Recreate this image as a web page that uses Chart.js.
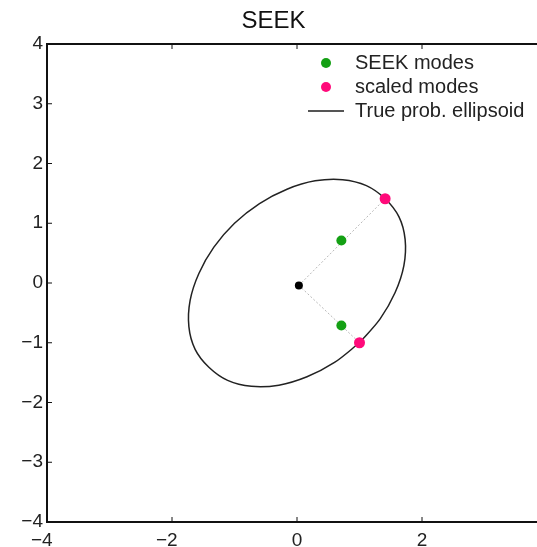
<!DOCTYPE html>
<html>
<head>
<meta charset="utf-8">
<script src="https://cdn.jsdelivr.net/npm/chart.js@4/dist/chart.umd.min.js"></script>
<style>
  html, body { margin: 0; padding: 0; background: #fff; overflow: hidden; }
  #wrap { position: absolute; left: 0; top: 0; width: 594px; height: 547px; }
</style>
</head>
<body>
<div id="wrap"><canvas id="seek" width="594" height="547"></canvas></div>
<script>
const FONT = '"Liberation Sans", Arial, Helvetica, sans-serif';

// values
const modesX = [0.71, 0.71];
const modesY = [0.71, -0.71];
const scaledX = [1.41, 1.0];
const scaledY = [1.41, -1.0];
const centerX = [0.03];
const centerY = [-0.04];
// ellipse outline, starting and ending at the lower right scaled mode
const ellipseX = [1.00, 0.60, 0.16, -0.29, -0.73, -1.11, -1.41, -1.63, -1.73, -1.71, -1.57, -1.33,
  -1.00, -0.60, -0.16, 0.29, 0.73, 1.11, 1.41, 1.63, 1.73, 1.71, 1.57, 1.33, 1.00];
const ellipseY = [-1.00, -1.33, -1.57, -1.71, -1.73, -1.63, -1.41, -1.11, -0.73, -0.29, 0.16, 0.60,
  1.00, 1.33, 1.57, 1.71, 1.73, 1.63, 1.41, 1.11, 0.73, 0.29, -0.16, -0.60, -1.00];
const xTicks = [-4, -2, 0, 2, 4];
const yTicks = [-4, -3, -2, -1, 0, 1, 2, 3, 4];

const pts = (xs, ys) => xs.map((x, i) => ({ x, y: ys[i] }));

function dotIcon(color, r) {
  const c = document.createElement('canvas');
  c.width = c.height = 2 * r + 2;
  const g = c.getContext('2d');
  g.fillStyle = color;
  g.beginPath();
  g.arc(r + 1, r + 1, r, 0, Math.PI * 2);
  g.fill();
  return c;
}

function lineIcon(color, len) {
  const c = document.createElement('canvas');
  c.width = len;
  c.height = 4;
  const g = c.getContext('2d');
  g.fillStyle = color;
  g.fillRect(0, 1, len, 2);
  return c;
}

const icons = {
  'SEEK modes': dotIcon('#14a014', 5),
  'scaled modes': dotIcon('#ff0a7a', 5),
  'True prob. ellipsoid': lineIcon('#555', 36)
};

const minus = v => (v < 0 ? '\u2212' + (-v) : '' + v);

// matlab style box with inward ticks
const framePlugin = {
  id: 'frame',
  afterDraw(chart) {
    const { ctx, chartArea: a, scales } = chart;
    ctx.save();
    ctx.strokeStyle = '#111';
    ctx.lineWidth = 1;
    ctx.beginPath();
    xTicks.forEach(v => {
      const px = scales.x.getPixelForValue(v);
      ctx.moveTo(px, a.bottom); ctx.lineTo(px, a.bottom - 5);
      ctx.moveTo(px, a.top); ctx.lineTo(px, a.top + 5);
    });
    yTicks.forEach(v => {
      const py = scales.y.getPixelForValue(v);
      ctx.moveTo(a.left, py); ctx.lineTo(a.left + 5, py);
      ctx.moveTo(a.right, py); ctx.lineTo(a.right - 5, py);
    });
    ctx.stroke();
    ctx.lineWidth = 2;
    ctx.strokeRect(a.left, a.top, a.right - a.left, a.bottom - a.top);
    ctx.restore();
  }
};

// put the legend in the upper right corner of the plot
const legendPlace = {
  id: 'legendPlace',
  afterLayout(chart) {
    chart.legend.left = 303;
    chart.legend.top = 49;
  }
};

new Chart(document.getElementById('seek'), {
  type: 'scatter',
  data: {
    datasets: [
      { label: 'SEEK modes', data: pts(modesX, modesY), backgroundColor: '#14a014',
        pointRadius: 5, pointHoverRadius: 5, pointBorderWidth: 0 },
      { label: 'scaled modes', data: pts(scaledX, scaledY), backgroundColor: '#ff0a7a',
        pointRadius: 5.5, pointHoverRadius: 5.5, pointBorderWidth: 0 },
      { label: 'True prob. ellipsoid', data: pts(ellipseX, ellipseY), showLine: true,
        borderColor: '#222', borderWidth: 1.5, tension: 0.33, pointRadius: 0 },
      { label: 'center', data: pts(centerX, centerY), backgroundColor: '#000',
        pointRadius: 4, pointBorderWidth: 0 },
      { label: 'dir1', data: [pts(centerX, centerY)[0], pts(scaledX, scaledY)[0]], showLine: true,
        borderColor: '#b8b8b8', borderWidth: 1, borderDash: [2, 2], pointRadius: 0 },
      { label: 'dir2', data: [pts(centerX, centerY)[0], pts(scaledX, scaledY)[1]], showLine: true,
        borderColor: '#b8b8b8', borderWidth: 1, borderDash: [2, 2], pointRadius: 0 }
    ]
  },
  options: {
    responsive: false,
    animation: false,
    events: [],
    layout: { padding: { left: 0, right: 47, top: 0, bottom: 0 } },
    plugins: {
      tooltip: { enabled: false },
      title: {
        display: true,
        text: 'SEEK',
        color: '#111',
        font: { family: FONT, size: 24, weight: 'normal', lineHeight: 1.2 },
        padding: { top: 7, bottom: 8.2 }
      },
      legend: {
        position: 'chartArea',
        align: 'start',
        labels: {
          color: '#222',
          font: { family: FONT, size: 20 },
          usePointStyle: true,
          pointStyleWidth: 38,
          padding: 4,
          filter: item => icons[item.text] !== undefined,
          generateLabels(chart) {
            return Chart.defaults.plugins.legend.labels.generateLabels(chart)
              .map(item => Object.assign(item, { pointStyle: icons[item.text] || item.pointStyle }));
          }
        }
      }
    },
    scales: {
      x: {
        type: 'linear',
        min: -4, max: 4,
        grid: { display: false, drawTicks: false },
        border: { display: false },
        afterFit: s => { s.height = 25; },
        afterBuildTicks: s => { s.ticks = xTicks.map(v => ({ value: v })); },
        ticks: {
          padding: 7,
          color: '#222',
          font: { family: FONT, size: 19 },
          callback: v => (v < 0 ? minus(v) + '  ' : minus(v))
        }
      },
      y: {
        type: 'linear',
        min: -4, max: 4,
        grid: { display: false, drawTicks: false },
        border: { display: false },
        afterFit: s => { s.width = 47; },
        afterBuildTicks: s => { s.ticks = yTicks.map(v => ({ value: v })); },
        ticks: {
          padding: 4,
          color: '#222',
          font: { family: FONT, size: 19 },
          callback: v => minus(v)
        }
      }
    }
  },
  plugins: [framePlugin, legendPlace]
});
</script>
</body>
</html>
